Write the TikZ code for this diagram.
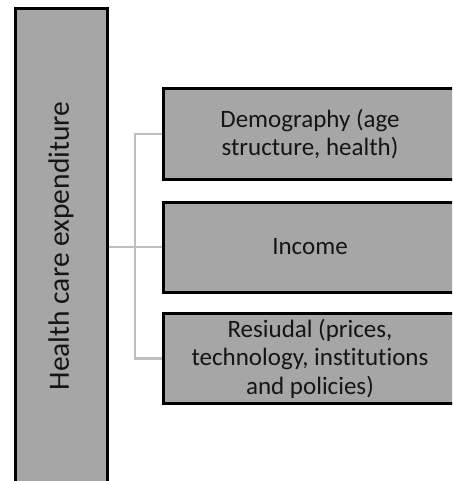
\documentclass[tikz,border=0pt]{standalone}
\usepackage{fontspec}
\setmainfont{Carlito}[Ligatures={NoCommon,NoRare}]
\definecolor{boxfill}{HTML}{A6A6A6}
\definecolor{conn}{HTML}{BFBFBF}
\definecolor{txt}{HTML}{151515}
\begin{document}
\begin{tikzpicture}[x=1pt,y=-1pt,
  gbox/.style={draw=black,line width=3pt,fill=boxfill,inner sep=0pt,align=center,text=txt},
  rbox/.style={gbox,minimum width=294pt,minimum height=90pt,font=\fontsize{25}{28.5}\selectfont},
  conline/.style={draw=conn,line width=2.5pt}]
\useasboundingbox (0,0) rectangle (452,481);
\clip (0,0) rectangle (452,481);
\node[gbox,minimum width=92pt,minimum height=474pt,font=\fontsize{29.5}{34}\selectfont] (hce) at (61,246) {\rotatebox{90}{Health care expenditure}};
\node[rbox] (demo) at (310,134) {Demography (age\\structure, health)};
\node[rbox] (inc) at (310,247) {Income};
\node[rbox] (res) at (310,358.5) {Resiudal (prices,\\technology, institutions\\and policies)};
\coordinate (j) at (135,247);
\draw[conline] (hce.east |- inc.west) -- (inc.west);
\draw[conline] (demo.west) -- (j |- demo.west) -- (j |- res.west) -- (res.west);
\end{tikzpicture}
\end{document}
